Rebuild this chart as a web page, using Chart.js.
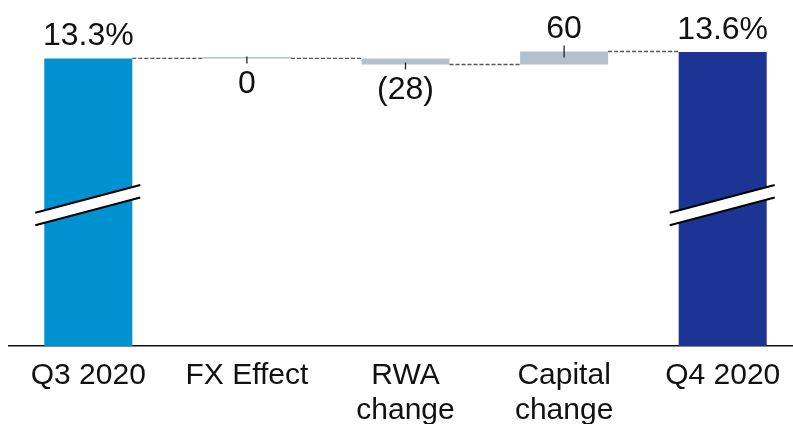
<!DOCTYPE html>
<html>
<head>
<meta charset="utf-8">
<script src="https://cdn.jsdelivr.net/npm/chart.js@4/dist/chart.umd.min.js"></script>
<style>
  html, body { margin: 0; padding: 0; background: #fff; overflow: hidden; }
  #wrap { position: relative; width: 802px; height: 424px; }
</style>
</head>
<body>
<div id="wrap"><canvas id="c"></canvas></div>
<script>
// CET1 ratio walk, Q3 2020 -> Q4 2020
const categories = [['Q3 2020'], ['FX Effect'], ['RWA', 'change'], ['Capital', 'change'], ['Q4 2020']];
const startRatio = 13.3;            // %
const endRatio = 13.6;              // %
const movementsBps = [0, -28, 60];  // FX effect, RWA change, Capital change
const valueLabels = ['13.3%', '0', '(28)', '60', '13.6%'];

// Build floating bars (in basis points) and the running level after each step
const bars = [];
const levels = [];
let running = startRatio * 100;
bars.push([0, running]);
levels.push(running);
movementsBps.forEach(d => {
  const from = running;
  running += d;
  bars.push([Math.min(from, running), Math.max(from, running)]);
  levels.push(running);
});
bars.push([0, endRatio * 100]);
levels.push(endRatio * 100);

const FONT = '"Liberation Sans", Arial, Helvetica, sans-serif';
const INK = '#111111';

const waterfallDecor = {
  id: 'waterfallDecor',
  afterDatasetsDraw(chart) {
    const ctx = chart.ctx;
    const ys = chart.scales.y;
    const area = chart.chartArea;
    const els = chart.getDatasetMeta(0).data;
    ctx.save();

    // dashed connectors between neighbouring bars
    ctx.strokeStyle = '#555555';
    ctx.lineWidth = 1.4;
    ctx.setLineDash([4, 2]);
    for (let i = 0; i < els.length - 1; i++) {
      const a = els[i], b = els[i + 1];
      const py = ys.getPixelForValue(levels[i]);
      ctx.beginPath();
      ctx.moveTo(a.x + a.width / 2, py);
      ctx.lineTo(b.x - b.width / 2, py);
      ctx.stroke();
    }
    ctx.setLineDash([]);

    // axis-break marks on the two total bars
    const breakY = area.top + (area.bottom - area.top) * 0.593;
    [0, els.length - 1].forEach(i => {
      const cx = els[i].x;
      const x1 = cx - 53, x2 = cx + 52;
      const slope = -27.7 / 105;
      const yAt = x => breakY + (x - (x1 + x2) / 2) * slope;
      const gap = 12.5;
      ctx.fillStyle = '#ffffff';
      ctx.beginPath();
      ctx.moveTo(x1, yAt(x1) - gap / 2);
      ctx.lineTo(x2, yAt(x2) - gap / 2);
      ctx.lineTo(x2, yAt(x2) + gap / 2);
      ctx.lineTo(x1, yAt(x1) + gap / 2);
      ctx.closePath();
      ctx.fill();
      ctx.strokeStyle = '#000000';
      ctx.lineWidth = 2;
      [-gap / 2, gap / 2].forEach(off => {
        ctx.beginPath();
        ctx.moveTo(x1, yAt(x1) + off);
        ctx.lineTo(x2, yAt(x2) + off);
        ctx.stroke();
      });
    });

    // value labels with short leader ticks on the movement bars
    ctx.font = '32px ' + FONT;
    ctx.fillStyle = INK;
    ctx.textAlign = 'center';
    ctx.textBaseline = 'alphabetic';
    els.forEach((el, i) => {
      const top = ys.getPixelForValue(bars[i][1]);
      const bottom = ys.getPixelForValue(bars[i][0]);
      const isMove = i > 0 && i < els.length - 1;
      const d = isMove ? movementsBps[i - 1] : 1;
      ctx.strokeStyle = '#222222';
      ctx.lineWidth = 1.3;
      if (d > 0) {
        if (isMove) {
          ctx.beginPath();
          ctx.moveTo(el.x, top - 6);
          ctx.lineTo(el.x, top + 6);
          ctx.stroke();
        }
        ctx.fillText(valueLabels[i], el.x, top - 13);
      } else {
        ctx.beginPath();
        ctx.moveTo(el.x, bottom - 2);
        ctx.lineTo(el.x, bottom + 5);
        ctx.stroke();
        ctx.fillText(valueLabels[i], el.x, bottom + 35);
      }
    });
    ctx.restore();
  }
};

new Chart(document.getElementById('c'), {
  type: 'bar',
  data: {
    labels: categories,
    datasets: [{
      data: bars,
      backgroundColor: ['#0091D1', '#B4C1CD', '#B4C1CD', '#B4C1CD', '#1C3494'],
      borderWidth: 0,
      barPercentage: 1,
      categoryPercentage: 0.555,
      minBarLength: 1.5
    }]
  },
  options: {
    responsive: true,
    maintainAspectRatio: false,
    animation: false,
    layout: { padding: { left: 9, right: 0, top: 0, bottom: 0 } },
    plugins: { legend: { display: false }, tooltip: { enabled: false } },
    scales: {
      x: {
        grid: { display: false, drawTicks: false },
        border: { display: true, color: '#111111', width: 1.5 },
        ticks: {
          color: INK,
          font: { family: FONT, size: 30, lineHeight: 1.17 },
          padding: 12,
          maxRotation: 0,
          autoSkip: false
        },
        afterFit(scale) { scale.height = 78; }
      },
      y: {
        display: false,
        min: 0,
        max: 1600
      }
    }
  },
  plugins: [waterfallDecor]
});
</script>
</body>
</html>
